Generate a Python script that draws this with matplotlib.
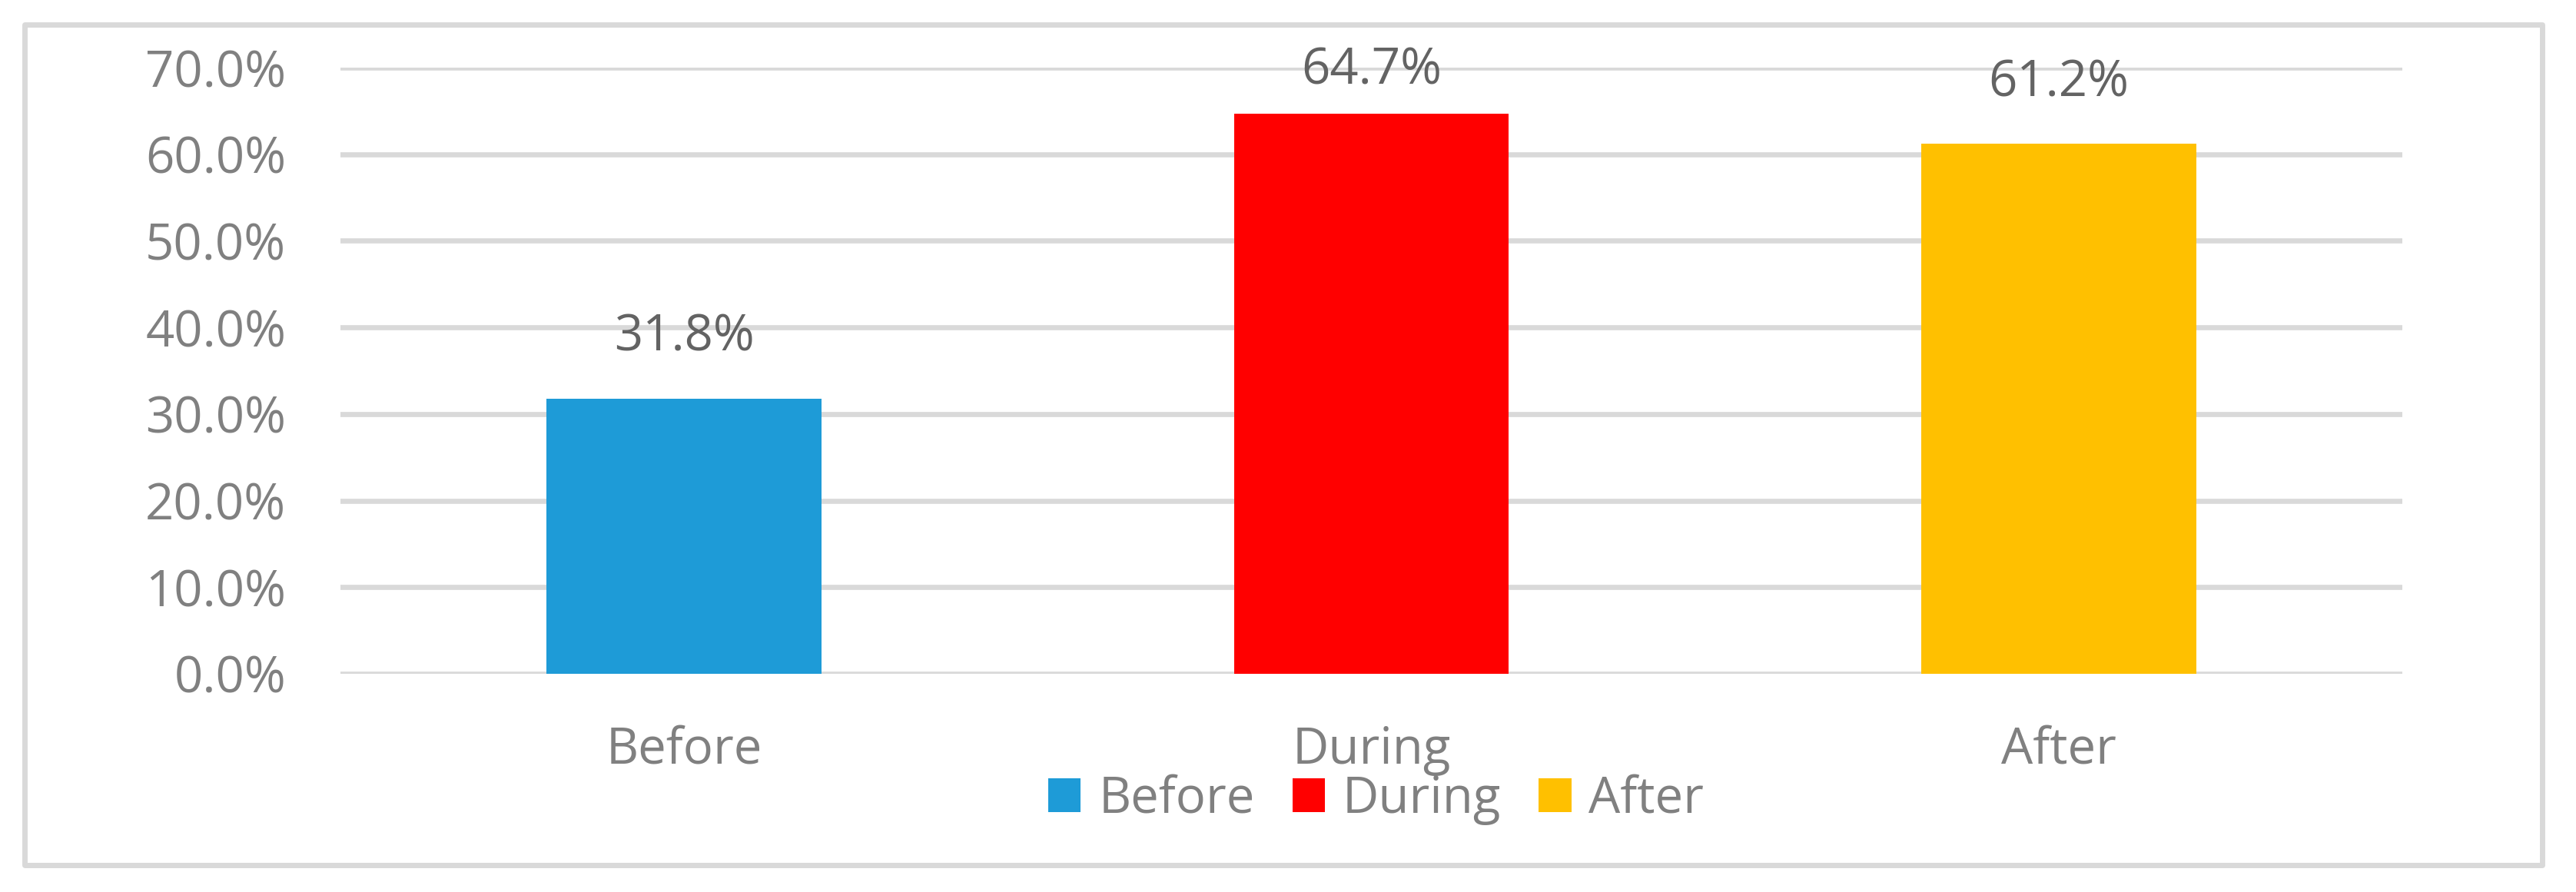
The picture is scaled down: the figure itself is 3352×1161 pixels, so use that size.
import matplotlib
matplotlib.use("Agg")
import matplotlib.pyplot as plt
from matplotlib.patches import Rectangle, Patch

# data
categories = ["Before", "During", "After"]
values = [31.8, 64.7, 61.2]
bar_colors = ["#1E9BD7", "#FF0000", "#FFC000"]
y_ticks = [0, 10, 20, 30, 40, 50, 60, 70]

plt.rcParams["font.family"] = ["Open Sans", "DejaVu Sans"]

W, H, DPI = 3352, 1161, 100
fig = plt.figure(figsize=(W / DPI, H / DPI), dpi=DPI)
fig.patch.set_facecolor("white")

ax = fig.add_axes([443 / W, 1 - 877 / H, (3126 - 443) / W, (877 - 88) / H])

x = list(range(len(categories)))
ax.bar(x, values, width=0.4, color=bar_colors, zorder=3)

ax.set_xlim(-0.5, len(categories) - 0.5)
ax.set_ylim(0, 70)
ax.set_yticks(y_ticks)
ax.set_yticklabels([f"{t:.1f}%" for t in y_ticks])
ax.set_xticks(x)
ax.set_xticklabels(categories)

ax.grid(axis="y", color="#D9D9D9", linewidth=4.8, zorder=0)
ax.set_axisbelow(True)
for s in ax.spines.values():
    s.set_visible(False)
ax.tick_params(axis="both", length=0, labelsize=47, labelcolor="#808080")
ax.tick_params(axis="y", pad=51)
ax.tick_params(axis="x", pad=48)

# data labels (kept inside the plot area like Excel does)
for xi, v in zip(x, values):
    ax.text(xi, min(v + 7.0, 69.6), f"{v:.1f}%", ha="center", va="center",
            fontsize=47, color="#636363", zorder=4)

handles = [Patch(facecolor=c, edgecolor="none") for c in bar_colors]
fig.legend(handles, categories, loc="center", bbox_to_anchor=(0.5342, 1 - 1041 / H),
           ncol=3, frameon=False, fontsize=47, labelcolor="#808080",
           handlelength=0.65, handleheight=0.65, handletextpad=0.35,
           columnspacing=0.75, borderpad=0, borderaxespad=0)

# outer chart border
fig.patches.append(Rectangle((31.5 / W, 1 - 1125.5 / H), (3307.5 - 31.5) / W,
                             (1125.5 - 31.5) / H, transform=fig.transFigure,
                             fill=False, edgecolor="#D9D9D9", linewidth=5,
                             joinstyle="round"))

fig.savefig("out.png", dpi=DPI, facecolor="white")
plt.close(fig)
